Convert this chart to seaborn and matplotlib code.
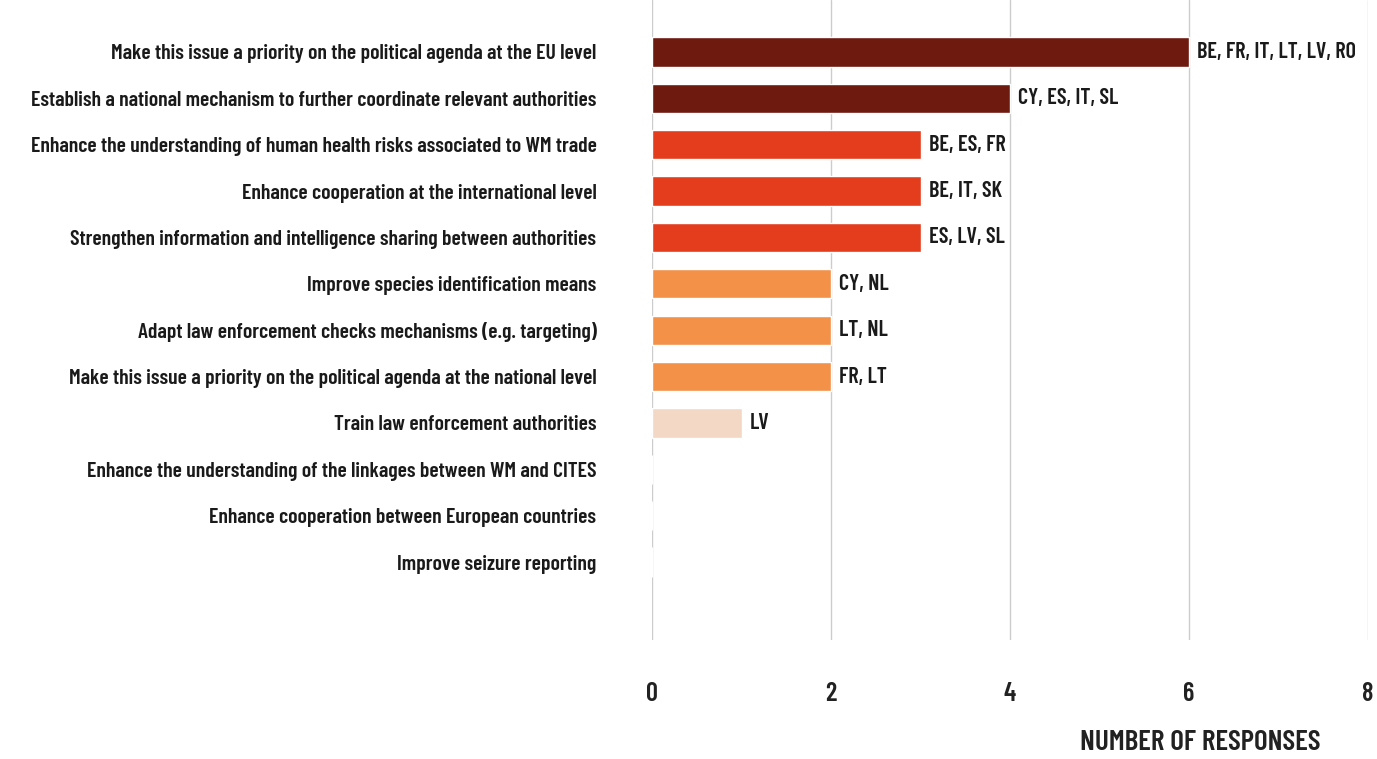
import matplotlib
matplotlib.use("Agg")
import matplotlib.pyplot as plt
import seaborn as sns
import pandas as pd

categories = [
    "Make this issue a priority on the political agenda at the EU level",
    "Establish a national mechanism to further coordinate relevant authorities",
    "Enhance the understanding of human health risks associated to WM trade",
    "Enhance cooperation at the international level",
    "Strengthen information and intelligence sharing between authorities",
    "Improve species identification means",
    "Adapt law enforcement checks mechanisms (e.g. targeting)",
    "Make this issue a priority on the political agenda at the national level",
    "Train law enforcement authorities",
    "Enhance the understanding of the linkages between WM and CITES",
    "Enhance cooperation between European countries",
    "Improve seizure reporting",
]
values = [6, 4, 3, 3, 3, 2, 2, 2, 1, 0, 0, 0]
countries = ["BE, FR, IT, LT, LV, RO", "CY, ES, IT, SL", "BE, ES, FR", "BE, IT, SK",
             "ES, LV, SL", "CY, NL", "LT, NL", "FR, LT", "LV", "", "", ""]
bar_colors = ["#6E1A0F", "#6E1A0F", "#E43D1E", "#E43D1E", "#E43D1E",
              "#F39149", "#F39149", "#F39149", "#F3D8C6", "#FFFFFF", "#FFFFFF", "#FFFFFF"]
x_ticks = [0, 2, 4, 6, 8]

sns.set_style("white")
plt.rcParams['font.family'] = ['Barlow Condensed', 'Roboto Condensed',
                               'IBM Plex Sans Condensed', 'DejaVu Sans']

df = pd.DataFrame({"category": categories, "value": values})

fig = plt.figure(figsize=(13.77, 7.59), dpi=100)
ax = fig.add_axes([652/1377, 1 - 640/759, (1368-652)/1377, 640/759])

sns.barplot(data=df, x="value", y="category", hue="category", palette=bar_colors,
            legend=False, width=0.63, ax=ax, zorder=3, saturation=1)

ax.set_xlim(0, 8)
ax.set_ylim(11 + 1.68, -1.12)
ax.set_xticks(x_ticks)
ax.set_xticklabels([str(t) for t in x_ticks], fontsize=19, fontweight=600, color='#222222')
ax.tick_params(axis='x', length=0, pad=30)
ax.tick_params(axis='y', length=0, pad=40)
for lbl in ax.get_yticklabels():
    lbl.set_fontsize(15.6)
    lbl.set_fontweight(600)
    lbl.set_color('#1a1a1a')
ax.grid(axis='x', color='#cccccc', linewidth=1, zorder=0)
ax.grid(axis='y', visible=False)
for s in ax.spines.values():
    s.set_visible(False)
ax.set_ylabel("")
ax.set_xlabel("")

for i, (v, c) in enumerate(zip(values, countries)):
    if c:
        ax.text(v + 0.09, i, c, va='center', ha='left', fontsize=16,
                fontweight=600, color='#1a1a1a', zorder=4)

fig.text(1320/1377, 1 - 742/759, "NUMBER OF RESPONSES", ha='right', va='center',
         fontsize=21, fontweight=600, color='#222222')

fig.savefig("out.png", dpi=100, facecolor='white')
